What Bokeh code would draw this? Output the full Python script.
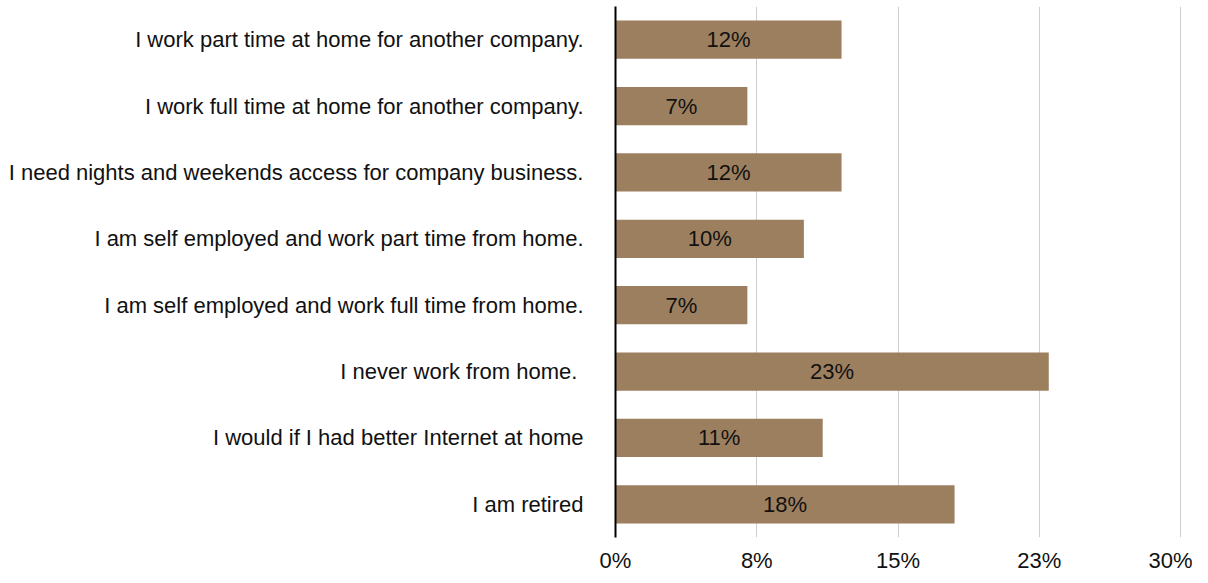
from bokeh.plotting import figure
from bokeh.models import ColumnDataSource, FixedTicker, FactorRange, Range1d
from bokeh.core.properties import value
from bokeh.embed import file_html
from bokeh.resources import INLINE

categories = [
    "I work part time at home for another company.",
    "I work full time at home for another company.",
    "I need nights and weekends access for company business.",
    "I am self employed and work part time from home.",
    "I am self employed and work full time from home.",
    "I never work from home. ",
    "I would if I had better Internet at home",
    "I am retired",
]
values = [12, 7, 12, 10, 7, 23, 11, 18]
bar_labels = ["12%", "7%", "12%", "10%", "7%", "23%", "11%", "18%"]
tick_values = [0, 7.5, 15, 22.5, 30]
tick_labels = ["0%", "8%", "15%", "23%", "30%"]

FONT = "'Liberation Sans Narrow', 'Arial Narrow', 'Liberation Sans', sans-serif"
FS = "22px"

cats_rev = categories[::-1]
src = ColumnDataSource(dict(
    cat=categories,
    val=values,
    mid=[v / 2 for v in values],
    lab=bar_labels,
))

p = figure(
    width=1192, height=575,
    y_range=FactorRange(factors=cats_rev, range_padding=0),
    x_range=Range1d(0, 30.1),
    output_backend="svg", toolbar_location=None,
    min_border_left=615, min_border_right=10,
    min_border_top=6, min_border_bottom=33,
)
p.outline_line_color = None

p.hbar(y="cat", right="val", left=0, height=0.575, source=src,
       fill_color="#9C7F5F", line_color=None)
p.text(x="mid", y="cat", text="lab", source=src,
       text_align="center", text_baseline="middle",
       text_font=value(FONT), text_font_size=FS, text_color="#111111")

# x axis
p.xaxis.ticker = FixedTicker(ticks=tick_values)
p.xaxis.major_label_overrides = {t: l for t, l in zip(tick_values, tick_labels)}
p.xaxis.axis_line_color = None
p.xaxis.major_tick_line_color = None
p.xaxis.minor_tick_line_color = None
p.xaxis.major_tick_out = 0
p.xaxis.major_tick_in = 0
p.xaxis.major_label_text_font = FONT
p.xaxis.major_label_text_font_size = FS
p.xaxis.major_label_text_color = "#111111"
p.xaxis.major_label_standoff = 10

p.xgrid.grid_line_color = "#CFCFCF"
p.xgrid.grid_line_width = 1
p.ygrid.grid_line_color = None

# y axis
p.yaxis.axis_line_color = "black"
p.yaxis.axis_line_width = 2
p.yaxis.major_tick_line_color = None
p.yaxis.minor_tick_line_color = None
p.yaxis.major_tick_out = 0
p.yaxis.major_tick_in = 0
p.yaxis.major_label_text_font = FONT
p.yaxis.major_label_text_font_size = FS
p.yaxis.major_label_text_color = "#111111"
p.yaxis.major_label_standoff = 32

open("out.html", "w").write(file_html(p, INLINE))
